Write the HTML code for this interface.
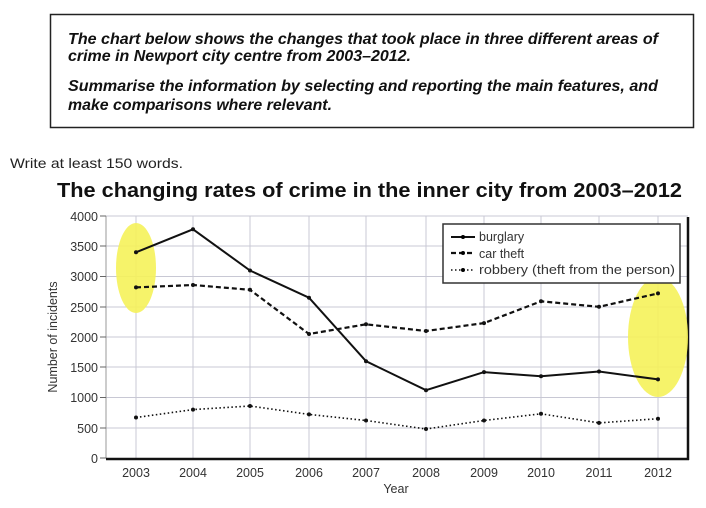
<!DOCTYPE html>
<html><head><meta charset="utf-8"><style>
body{margin:0;background:#fff;width:706px;height:503px;overflow:hidden;font-family:"Liberation Sans",sans-serif}
</style></head><body>
<svg width="706" height="503" xmlns="http://www.w3.org/2000/svg" font-family="Liberation Sans, sans-serif">
<rect x="50.5" y="14.5" width="643" height="113" fill="none" stroke="#222" stroke-width="1.5"/>
<g font-size="15.5" font-weight="bold" font-style="italic" fill="#111">
<text x="68" y="44" textLength="590" lengthAdjust="spacingAndGlyphs">The chart below shows the changes that took place in three different areas of</text>
<text x="68" y="61" textLength="343" lengthAdjust="spacingAndGlyphs">crime in Newport city centre from 2003–2012.</text>
<text x="68" y="91" textLength="590" lengthAdjust="spacingAndGlyphs">Summarise the information by selecting and reporting the main features, and</text>
<text x="68" y="110" textLength="264" lengthAdjust="spacingAndGlyphs">make comparisons where relevant.</text>
</g>
<text x="10" y="168" font-size="14" fill="#222" textLength="173" lengthAdjust="spacingAndGlyphs">Write at least 150 words.</text>
<text x="57" y="197" font-size="20" font-weight="bold" fill="#111" textLength="625" lengthAdjust="spacingAndGlyphs">The changing rates of crime in the inner city from 2003–2012</text>
<g stroke="#c8c8d4" stroke-width="1">
<line x1="106" y1="216" x2="688" y2="216"/><line x1="106" y1="246" x2="688" y2="246"/><line x1="106" y1="276.5" x2="688" y2="276.5"/><line x1="106" y1="307" x2="688" y2="307"/><line x1="106" y1="337" x2="688" y2="337"/><line x1="106" y1="367" x2="688" y2="367"/><line x1="106" y1="397.5" x2="688" y2="397.5"/><line x1="106" y1="428" x2="688" y2="428"/>
<line x1="136" y1="216" x2="136" y2="458"/><line x1="193" y1="216" x2="193" y2="458"/><line x1="250" y1="216" x2="250" y2="458"/><line x1="309" y1="216" x2="309" y2="458"/><line x1="366" y1="216" x2="366" y2="458"/><line x1="426" y1="216" x2="426" y2="458"/><line x1="484" y1="216" x2="484" y2="458"/><line x1="541" y1="216" x2="541" y2="458"/><line x1="599" y1="216" x2="599" y2="458"/><line x1="658" y1="216" x2="658" y2="458"/>
</g>
<line x1="106" y1="216" x2="106" y2="458" stroke="#999"/>
<line x1="688" y1="217" x2="688" y2="460" stroke="#111" stroke-width="2.5"/>
<line x1="106" y1="459" x2="689" y2="459" stroke="#111" stroke-width="2.5"/>
<g stroke="#666"><line x1="100" y1="216" x2="106" y2="216"/><line x1="100" y1="246" x2="106" y2="246"/><line x1="100" y1="276.5" x2="106" y2="276.5"/><line x1="100" y1="307" x2="106" y2="307"/><line x1="100" y1="337" x2="106" y2="337"/><line x1="100" y1="367" x2="106" y2="367"/><line x1="100" y1="397.5" x2="106" y2="397.5"/><line x1="100" y1="428" x2="106" y2="428"/><line x1="100" y1="458" x2="106" y2="458"/></g>
<g font-size="12.5" fill="#333" text-anchor="end">
<text x="98" y="221">4000</text><text x="98" y="251">3500</text><text x="98" y="281">3000</text><text x="98" y="312">2500</text><text x="98" y="342">2000</text><text x="98" y="372">1500</text><text x="98" y="402">1000</text><text x="98" y="433">500</text><text x="98" y="463">0</text>
</g>
<g font-size="12.5" fill="#333" text-anchor="middle">
<text x="136" y="477">2003</text><text x="193" y="477">2004</text><text x="250" y="477">2005</text><text x="309" y="477">2006</text><text x="366" y="477">2007</text><text x="426" y="477">2008</text><text x="484" y="477">2009</text><text x="541" y="477">2010</text><text x="599" y="477">2011</text><text x="658" y="477">2012</text>
<text x="396" y="493">Year</text>
</g>
<text transform="translate(57,337) rotate(-90)" font-size="12.5" fill="#333" text-anchor="middle">Number of incidents</text>
<ellipse cx="136" cy="268" rx="20" ry="45" fill="#f5f25a" opacity="0.9"/>
<ellipse cx="658" cy="337" rx="30" ry="60" fill="#f5f25a" opacity="0.9"/>
<polyline fill="none" stroke="#111" stroke-width="2" points="136,252.3 193,229.3 250,270.5 309,297.7 366,361.2 426,390.2 484,372.1 541,376.3 599,371.5 658,379.4"/>
<polyline fill="none" stroke="#111" stroke-width="2.2" stroke-dasharray="5,3" points="136,287.4 193,285 250,289.8 309,334 366,324.3 426,331 484,323.1 541,301.3 599,306.8 658,293.4"/>
<polyline fill="none" stroke="#111" stroke-width="1.6" stroke-dasharray="1.5,2.5" points="136,417.5 193,409.6 250,406 309,414.4 366,420.5 426,429 484,420.5 541,413.8 599,422.9 658,418.7"/>
<g fill="#111">
<circle cx="136" cy="252.3" r="2"/><circle cx="193" cy="229.3" r="2"/><circle cx="250" cy="270.5" r="2"/><circle cx="309" cy="297.7" r="2"/><circle cx="366" cy="361.2" r="2"/><circle cx="426" cy="390.2" r="2"/><circle cx="484" cy="372.1" r="2"/><circle cx="541" cy="376.3" r="2"/><circle cx="599" cy="371.5" r="2"/><circle cx="658" cy="379.4" r="2"/>
<circle cx="136" cy="287.4" r="2"/><circle cx="193" cy="285" r="2"/><circle cx="250" cy="289.8" r="2"/><circle cx="309" cy="334" r="2"/><circle cx="366" cy="324.3" r="2"/><circle cx="426" cy="331" r="2"/><circle cx="484" cy="323.1" r="2"/><circle cx="541" cy="301.3" r="2"/><circle cx="599" cy="306.8" r="2"/><circle cx="658" cy="293.4" r="2"/>
<circle cx="136" cy="417.5" r="2"/><circle cx="193" cy="409.6" r="2"/><circle cx="250" cy="406" r="2"/><circle cx="309" cy="414.4" r="2"/><circle cx="366" cy="420.5" r="2"/><circle cx="426" cy="429" r="2"/><circle cx="484" cy="420.5" r="2"/><circle cx="541" cy="413.8" r="2"/><circle cx="599" cy="422.9" r="2"/><circle cx="658" cy="418.7" r="2"/>
</g>
<rect x="443" y="224" width="237" height="59" fill="#fff" stroke="#333" stroke-width="1.5"/>
<line x1="451" y1="237" x2="475" y2="237" stroke="#111" stroke-width="2"/>
<line x1="451" y1="253" x2="475" y2="253" stroke="#111" stroke-width="2.2" stroke-dasharray="5,3"/>
<line x1="451" y1="270" x2="475" y2="270" stroke="#111" stroke-width="1.6" stroke-dasharray="1.5,2.5"/>
<circle cx="463" cy="237" r="2"/><circle cx="463" cy="253" r="2"/><circle cx="463" cy="270" r="2"/>
<g font-size="12.5" fill="#333">
<text x="479" y="241">burglary</text><text x="479" y="258">car theft</text><text x="479" y="274" textLength="196" lengthAdjust="spacingAndGlyphs">robbery (theft from the person)</text>
</g>
</svg>
</body></html>
